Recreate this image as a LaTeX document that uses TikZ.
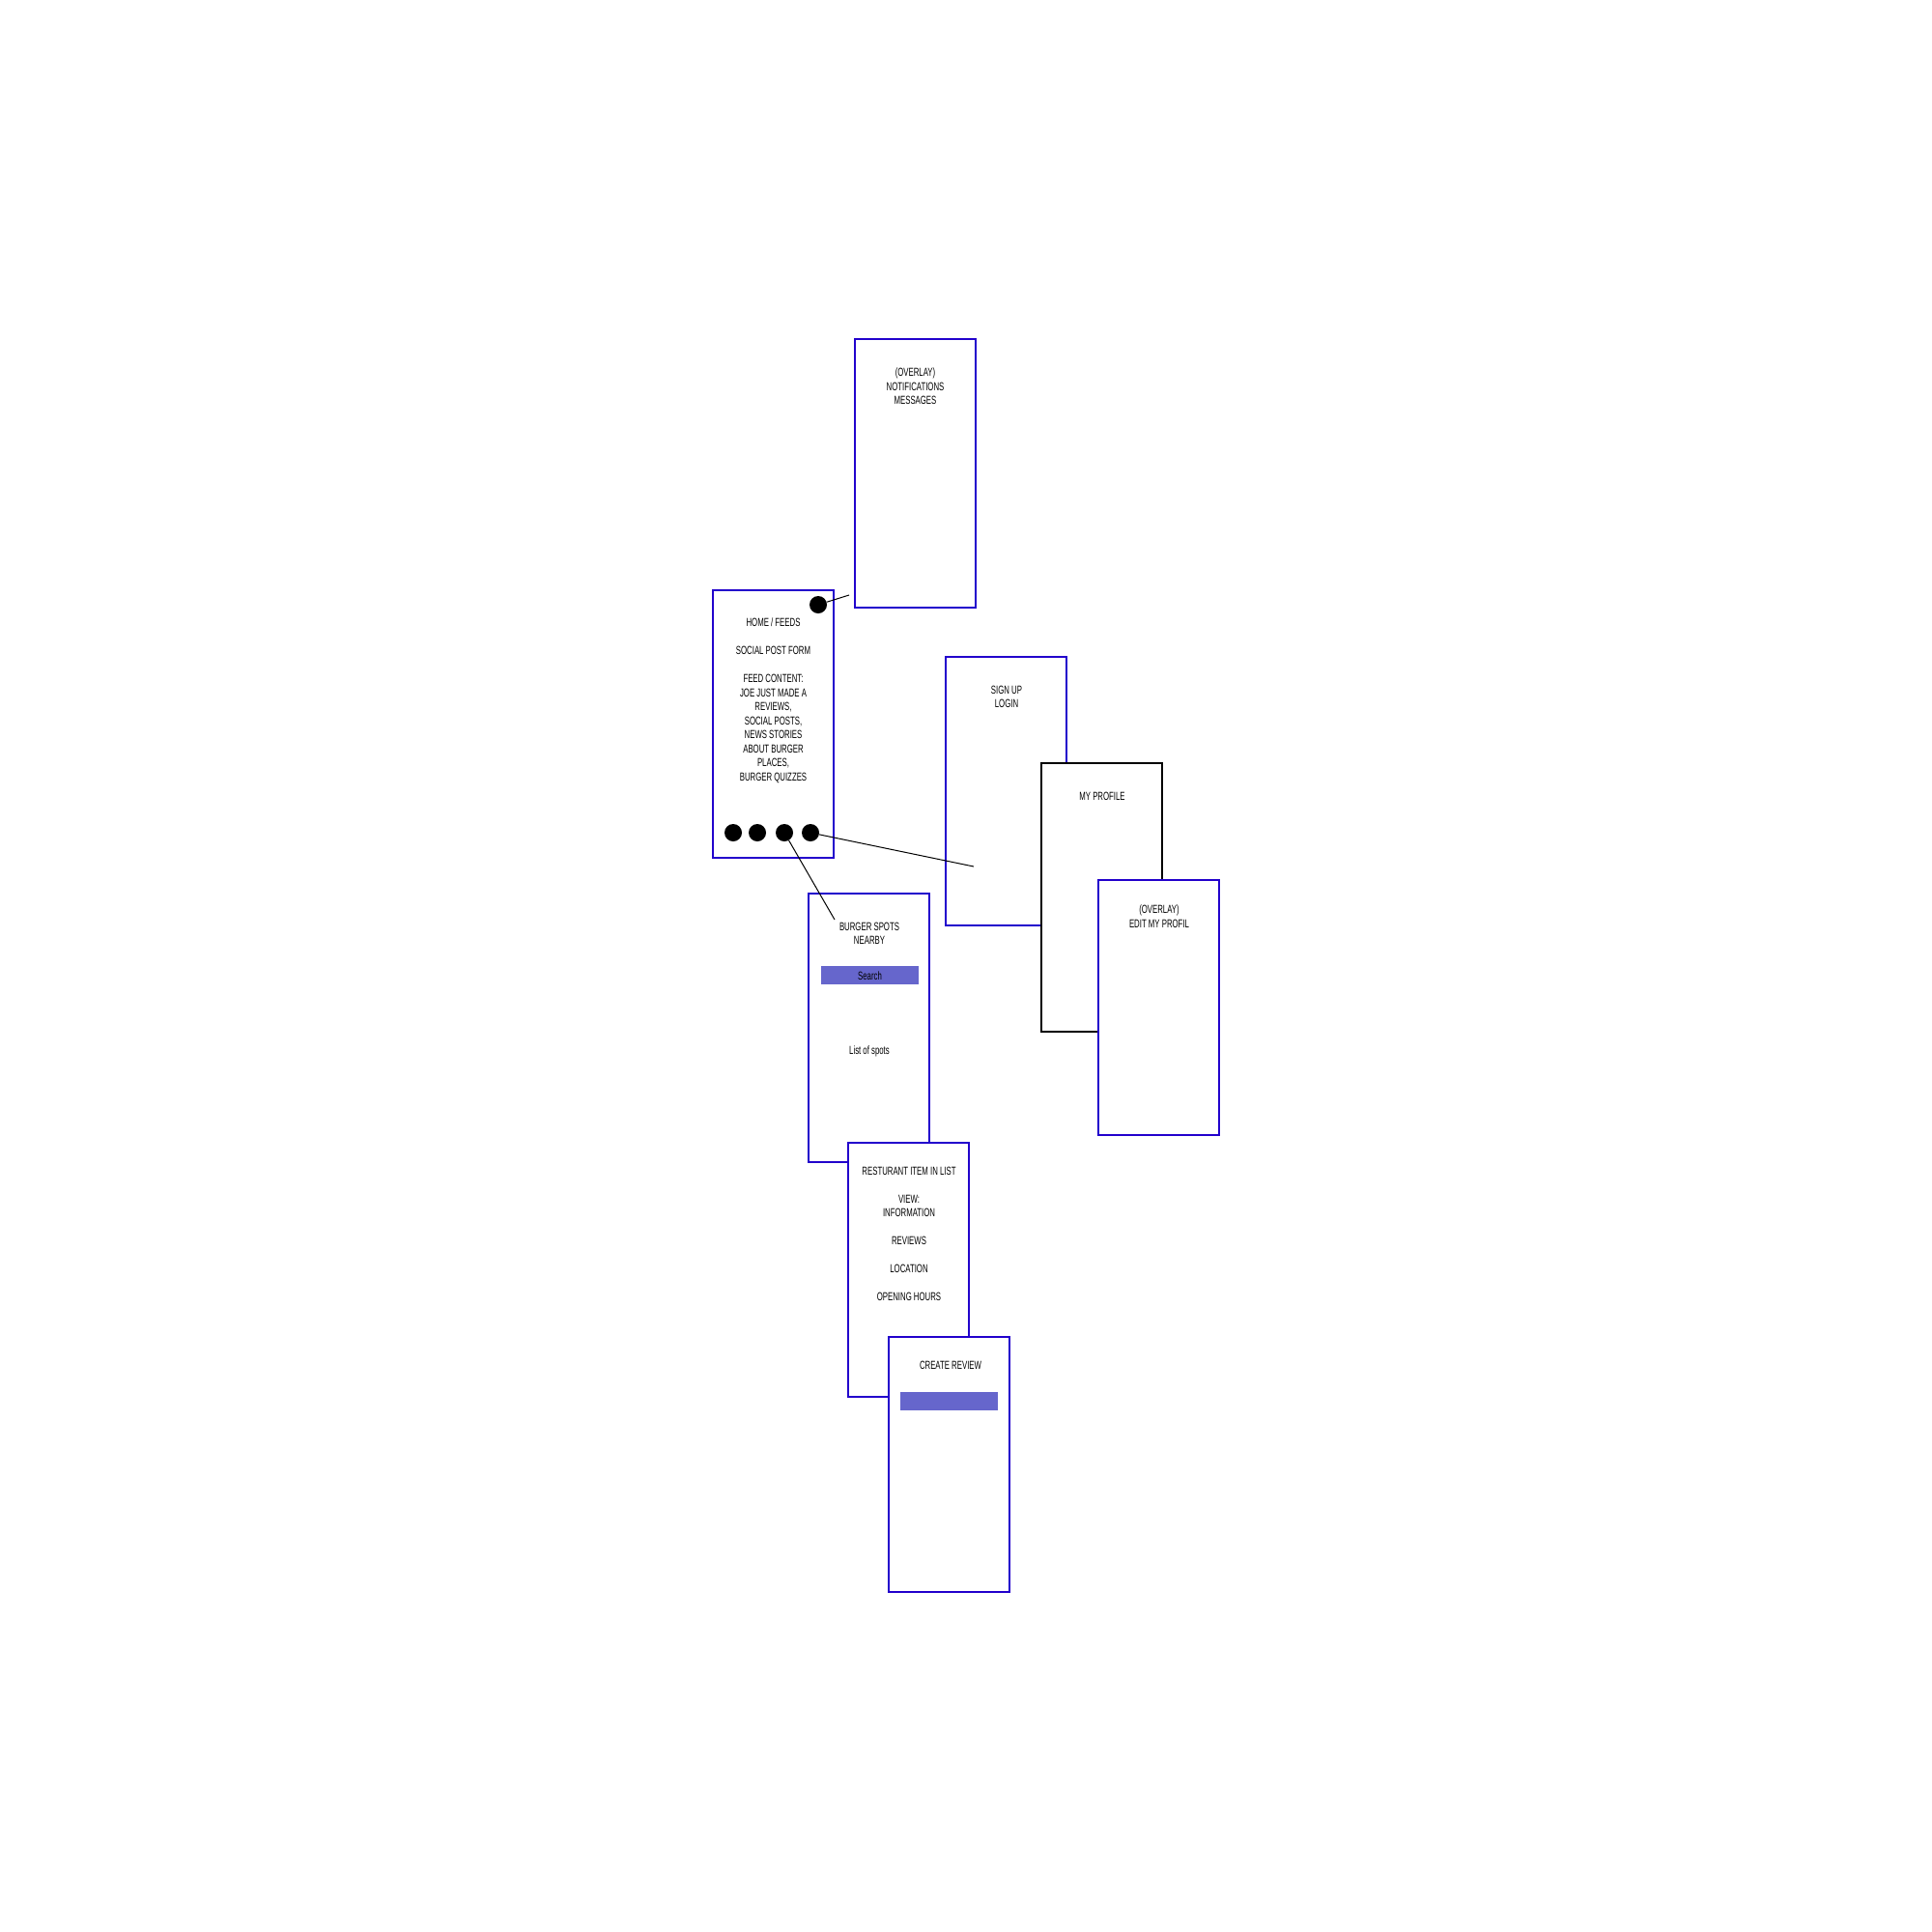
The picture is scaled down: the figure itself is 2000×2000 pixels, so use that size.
\documentclass[tikz,border=0pt]{standalone}
\usepackage{fontspec}
\setmainfont{Liberation Sans}[FakeStretch=0.65]
\definecolor{frameblue}{RGB}{34,0,204}
\definecolor{barblue}{RGB}{102,102,204}
\begin{document}
\begin{tikzpicture}[x=1pt,y=-1pt,
  screen/.style={draw=frameblue,line width=1.3pt,fill=white},
  screenblack/.style={draw=black,line width=1.3pt,fill=white},
  bar/.style={fill=barblue,draw=none},
  lbl/.style={inner sep=0pt,anchor=north,align=center,font=\fontsize{12}{14.5}\selectfont},
  dot/.style={circle,fill=black,inner sep=0pt,minimum size=18pt},
  link/.style={draw=black,line width=1pt}]
\useasboundingbox (0,0) rectangle (2000,2000);
% screens
\draw[screen] (885,351) rectangle (1010,629);
\node[inner sep=0pt] (notif) at (947.5,490) {};
\draw[screen] (738,611) rectangle (863,888);
\node[inner sep=0pt] (home) at (800.5,749.5) {};
\draw[screen] (979,680) rectangle (1104,958);
\node[inner sep=0pt] (signup) at (1041.5,819) {};
\draw[screenblack] (1078,790) rectangle (1203,1068);
\node[inner sep=0pt] (profile) at (1140.5,929) {};
\draw[screen] (1137,911) rectangle (1262,1175);
\node[inner sep=0pt] (edit) at (1199.5,1043) {};
\draw[screen] (837,925) rectangle (962,1203);
\node[inner sep=0pt] (burger) at (899.5,1064) {};
\draw[screen] (878,1183) rectangle (1003,1446);
\node[inner sep=0pt] (rest) at (940.5,1314.5) {};
\draw[screen] (920,1384) rectangle (1045,1648);
\node[inner sep=0pt] (create) at (982.5,1516) {};
% bars
\draw[bar] (850,1000) rectangle (951,1019);
\draw[bar] (932,1441) rectangle (1033,1460);
% texts
\node[lbl] (tnotif) at (947.5,380.7) {(OVERLAY)\\NOTIFICATIONS\\MESSAGES};
\node[lbl] (thome) at (800.5,639.7) {HOME / FEEDS\\[14.5pt]SOCIAL POST FORM\\[14.5pt]FEED CONTENT:\\JOE JUST MADE A\\REVIEWS,\\SOCIAL POSTS,\\NEWS STORIES\\ABOUT BURGER\\PLACES,\\BURGER QUIZZES};
\node[lbl] (tsignup) at (1042,709.7) {SIGN UP\\LOGIN};
\node[lbl] (tprofile) at (1141,819.7) {MY PROFILE};
\node[lbl] (tedit) at (1200,936.7) {(OVERLAY)\\EDIT MY PROFIL};
\node[lbl] (tburger) at (900,954.7) {BURGER SPOTS\\NEARBY};
\node[inner sep=0pt,font=\fontsize{12}{14.5}\selectfont] (tsearch) at (900.5,1010) {Search};
\node[lbl] (tlist) at (900,1082.7) {List of spots};
\node[lbl] (trest) at (941,1207.7) {RESTURANT ITEM IN LIST\\[14.5pt]VIEW:\\INFORMATION\\[14.5pt]REVIEWS\\[14.5pt]LOCATION\\[14.5pt]OPENING HOURS};
\node[lbl] (tcreate) at (984,1408.7) {CREATE REVIEW};
% dots
\node[dot] (dtop) at (847,626) {};
\node[dot] (d1) at (759,862) {};
\node[dot] (d2) at (784,862) {};
\node[dot] (d3) at (812,862) {};
\node[dot] (d4) at (839,862) {};
% connector ends
\coordinate (e1) at (879,616);
\coordinate (e2) at (1008,897);
\coordinate (e3) at (864,952);
\draw[link] (dtop) -- (e1);
\draw[link] (d4) -- (e2);
\draw[link] (d3) -- (e3);
\end{tikzpicture}
\end{document}
